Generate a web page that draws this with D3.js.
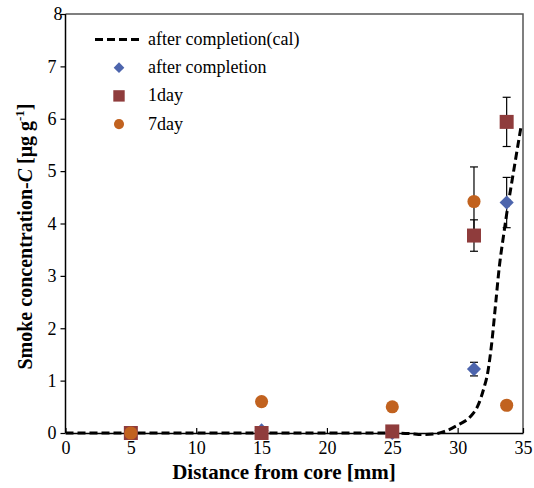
<!DOCTYPE html>
<html>
<head>
<meta charset="utf-8">
<script src="https://cdn.jsdelivr.net/npm/d3@7"></script>
<style>
  body { margin: 0; background: #fff; }
  svg { display: block; }
  svg text { font-family: "Liberation Serif", "Times New Roman", Tinos, "DejaVu Serif", serif; }
</style>
</head>
<body>
<svg id="chart" width="534" height="488"></svg>
<script>
// Measured distances from the core [mm]
const distances = [5, 15, 25, 31.25, 33.75];

// Measured smoke concentrations [μg g⁻¹] with error bar half-widths
const afterCompletion = [0, 0.05, 0, 1.22, 4.40];
const afterCompletionErr = [0, 0, 0, 0.13, 0.48];
const oneDay = [0, 0, 0.03, 3.77, 5.94];
const oneDayErr = [0, 0, 0, 0.30, 0.47];
const sevenDay = [0, 0.60, 0.50, 4.42, 0.53];
const sevenDayErr = [0, 0, 0, 0.66, 0];

// Calculated profile after completion
const calcX = [0, 5, 10, 15, 20, 25, 26.3, 27.3, 28.2, 29, 30, 31, 31.6, 32, 32.3, 32.6, 32.9, 33.2, 33.5, 33.75, 34.25, 34.85];
const calcY = [0, 0, 0, 0, 0, 0, -0.01, -0.03, -0.02, 0.03, 0.15, 0.32, 0.55, 0.85, 1.15, 1.7, 2.45, 3.2, 3.75, 4.18, 4.95, 5.85];

const xTicks = [0, 5, 10, 15, 20, 25, 30, 35];
const yTicks = [0, 1, 2, 3, 4, 5, 6, 7, 8];

const legendLabels = ["after completion(cal)", "after completion", "1day", "7day"];
const colors = { diamond: "#4d65ad", square: "#8f3c3c", circle: "#c1621f" };

const svg = d3.select("#chart");
const margin = { left: 65.5, right: 11, top: 14, bottom: 55 };
const W = 534, H = 488;

const x = d3.scaleLinear().domain([0, 35]).range([margin.left, W - margin.right]);
const y = d3.scaleLinear().domain([0, 8]).range([H - margin.bottom, margin.top]);

// Top and right frame
svg.append("path")
  .attr("d", `M${x(0)},${y(8)}H${x(35)}V${y(0)}`)
  .attr("fill", "none").attr("stroke", "#555").attr("stroke-width", 1.5);

// Y axis (ticks outward)
const yAxis = svg.append("g").attr("transform", `translate(${x(0)},0)`)
  .call(d3.axisLeft(y).tickValues(yTicks).tickSize(5).tickPadding(4).tickFormat(d3.format("d")));
// X axis (ticks inward)
const xAxis = svg.append("g").attr("transform", `translate(0,${y(0)})`)
  .call(d3.axisBottom(x).tickValues(xTicks).tickSizeInner(-5).tickSizeOuter(0).tickPadding(8).tickFormat(d3.format("d")));

[yAxis, xAxis].forEach(g => {
  g.attr("font-family", null);
  g.select(".domain").attr("stroke", "#000").attr("stroke-width", 1.5);
  g.selectAll(".tick line").attr("stroke", "#000").attr("stroke-width", 1.2);
  g.selectAll(".tick text").attr("font-size", 18).attr("fill", "#000");
});
yAxis.select(".domain").attr("d", `M-0,${y(8)}V${y(0)}`);
// the top label sits a little further right
yAxis.selectAll(".tick text").filter(d => d === 8).attr("dx", 6);

// Calculated curve
const calcData = calcX.map((d, i) => [d, calcY[i]]);
svg.append("path")
  .datum(calcData)
  .attr("fill", "none")
  .attr("stroke", "#000")
  .attr("stroke-width", 3)
  .attr("stroke-dasharray", "8,4")
  .attr("d", d3.line().x(d => x(d[0])).y(d => y(d[1])).curve(d3.curveMonotoneX));

// Series definitions (diamond = square rotated by 45°)
const series = [
  { vals: afterCompletion, err: afterCompletionErr, shape: d3.symbolSquare, size: 100, rot: 45, color: colors.diamond },
  { vals: oneDay, err: oneDayErr, shape: d3.symbolSquare, size: 196, rot: 0, color: colors.square },
  { vals: sevenDay, err: sevenDayErr, shape: d3.symbolCircle, size: 135, rot: 0, color: colors.circle }
];

// Error bars
const errG = svg.append("g").attr("stroke", "#000").attr("stroke-width", 1.2);
series.forEach(s => {
  distances.forEach((d, i) => {
    if (!s.err[i]) return;
    const cx = x(d), hi = y(s.vals[i] + s.err[i]), lo = y(s.vals[i] - s.err[i]);
    errG.append("line").attr("x1", cx).attr("x2", cx).attr("y1", hi).attr("y2", lo);
    errG.append("line").attr("x1", cx - 4).attr("x2", cx + 4).attr("y1", hi).attr("y2", hi);
    errG.append("line").attr("x1", cx - 4).attr("x2", cx + 4).attr("y1", lo).attr("y2", lo);
  });
});

// Markers
series.forEach(s => {
  svg.append("g").selectAll("path")
    .data(distances.map((d, i) => [d, s.vals[i]]))
    .join("path")
    .attr("transform", d => `translate(${x(d[0])},${y(d[1])}) rotate(${s.rot})`)
    .attr("d", d3.symbol().type(s.shape).size(s.size))
    .attr("fill", s.color);
});

// Legend
const lg = svg.append("g").attr("font-size", 18).attr("fill", "#000");
const lgX = 119, lgTextX = 148, lgY0 = 39.5, lgDy = 28.2;
lg.append("line")
  .attr("x1", 95).attr("x2", 143).attr("y1", lgY0).attr("y2", lgY0)
  .attr("stroke", "#000").attr("stroke-width", 3).attr("stroke-dasharray", "8,4");
const lgShapes = [null, [d3.symbolSquare, 57, 45, colors.diamond], [d3.symbolSquare, 130, 0, colors.square], [d3.symbolCircle, 80, 0, colors.circle]];
legendLabels.forEach((t, i) => {
  const cy = lgY0 + i * lgDy;
  if (lgShapes[i]) {
    lg.append("path")
      .attr("transform", `translate(${lgX},${cy}) rotate(${lgShapes[i][2]})`)
      .attr("d", d3.symbol().type(lgShapes[i][0]).size(lgShapes[i][1]))
      .attr("fill", lgShapes[i][3]);
  }
  lg.append("text").attr("x", lgTextX).attr("y", cy).attr("dy", "0.3em").text(t);
});

// Axis titles
svg.append("text")
  .attr("x", 284).attr("y", 479)
  .attr("text-anchor", "middle")
  .attr("font-size", 21).attr("font-weight", "bold")
  .text("Distance from core [mm]");

const yt = svg.append("text")
  .attr("transform", "translate(31.5,236.5) rotate(-90)")
  .attr("text-anchor", "middle")
  .attr("font-size", 20).attr("font-weight", "bold");
yt.append("tspan").text("Smoke concentration-");
yt.append("tspan").attr("font-style", "italic").text("C");
yt.append("tspan").text(" [μg g");
yt.append("tspan").attr("font-size", 13).attr("dy", "-0.6em").text("-1");
yt.append("tspan").attr("dy", "0.4em").text("]");
</script>
</body>
</html>
